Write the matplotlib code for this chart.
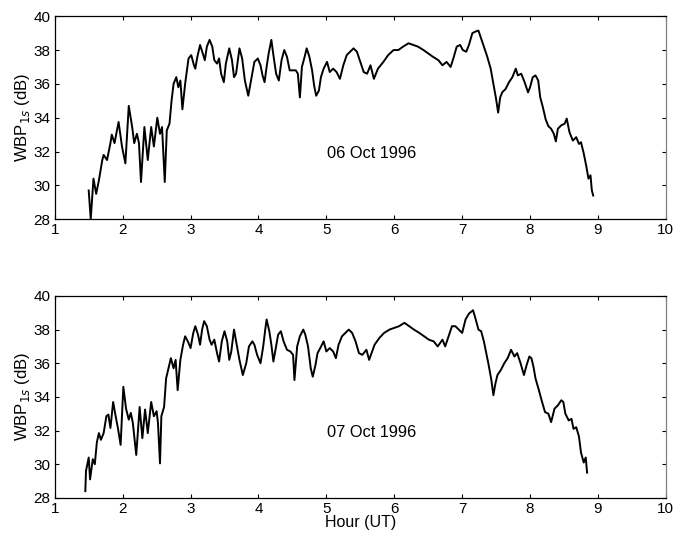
import matplotlib.pyplot as plt
import numpy as np

plt.rcParams['font.family'] = ['Liberation Sans', 'DejaVu Sans']

# ---- data (hour UT, dB) ----
hour_06 = [1.50, 1.53, 1.57, 1.61, 1.65, 1.70, 1.72, 1.77, 1.82, 1.84, 1.88, 1.94, 1.99,
           2.04, 2.09, 2.14, 2.17, 2.21, 2.24, 2.27, 2.32, 2.37, 2.42, 2.46, 2.51, 2.55,
           2.58, 2.62, 2.65, 2.69, 2.72, 2.75, 2.79, 2.82, 2.85, 2.88, 2.92, 2.97, 3.01,
           3.05, 3.07, 3.10, 3.14, 3.18, 3.21, 3.24, 3.28, 3.32, 3.35, 3.39, 3.42, 3.45,
           3.49, 3.52, 3.57, 3.61, 3.64, 3.67, 3.72, 3.76, 3.80, 3.85, 3.90, 3.94, 3.99,
           4.03, 4.06, 4.09, 4.12, 4.15, 4.19, 4.22, 4.26, 4.30, 4.34, 4.38, 4.42, 4.46,
           4.51, 4.55, 4.58, 4.61, 4.64, 4.68, 4.71, 4.75, 4.79, 4.82, 4.85, 4.89, 4.92,
           4.96, 5.01, 5.05, 5.10, 5.15, 5.20, 5.25, 5.30, 5.35, 5.40, 5.45, 5.50, 5.55,
           5.60, 5.65, 5.70, 5.76, 5.84, 5.91, 5.99, 6.06, 6.13, 6.21, 6.28, 6.35, 6.43,
           6.50, 6.57, 6.65, 6.71, 6.77, 6.83, 6.87, 6.92, 6.97, 7.01, 7.06, 7.10, 7.15,
           7.20, 7.24, 7.27, 7.32, 7.37, 7.42, 7.46, 7.50, 7.53, 7.56, 7.59, 7.64, 7.69,
           7.74, 7.79, 7.82, 7.87, 7.92, 7.97, 8.00, 8.04, 8.08, 8.12, 8.15, 8.19, 8.23,
           8.27, 8.31, 8.35, 8.38, 8.41, 8.46, 8.51, 8.54, 8.58, 8.63, 8.68, 8.72, 8.75,
           8.79, 8.83, 8.86, 8.89, 8.91, 8.93]
wbp_06 = [29.7, 28.0, 30.4, 29.5, 30.3, 31.5, 31.8, 31.5, 32.5, 33.0, 32.5, 33.75, 32.3,
          31.3, 34.7, 33.45, 32.5, 33.05, 32.5, 30.2, 33.45, 31.5, 33.45, 32.3, 34.0, 33.05,
          33.45, 30.2, 33.25, 33.65, 35.0, 36.0, 36.4, 35.8, 36.2, 34.5, 36.0, 37.5, 37.7,
          37.1, 36.9, 37.6, 38.3, 37.8, 37.4, 38.2, 38.6, 38.2, 37.4, 37.2, 37.5, 36.6,
          36.1, 37.2, 38.1, 37.4, 36.4, 36.6, 38.1, 37.5, 36.2, 35.3, 36.4, 37.3, 37.5,
          37.1, 36.5, 36.1, 37.0, 37.8, 38.6, 37.7, 36.6, 36.2, 37.4, 38.0, 37.6, 36.8,
          36.8, 36.8, 36.6, 35.2, 37.0, 37.6, 38.1, 37.6, 36.8, 35.9, 35.3, 35.6, 36.4,
          36.9, 37.3, 36.7, 36.9, 36.7, 36.3, 37.1, 37.7, 37.9, 38.1, 37.9, 37.3, 36.7,
          36.6, 37.1, 36.3, 36.9, 37.3, 37.7, 38.0, 38.0, 38.2, 38.4, 38.3, 38.2, 38.0,
          37.8, 37.6, 37.4, 37.1, 37.3, 37.0, 37.5, 38.2, 38.3, 38.0, 37.9, 38.3, 39.0,
          39.1, 39.15, 38.8, 38.2, 37.6, 36.9, 36.0, 35.1, 34.3, 35.2, 35.5, 35.7, 36.1,
          36.4, 36.9, 36.5, 36.6, 36.1, 35.5, 35.8, 36.4, 36.5, 36.2, 35.2, 34.6, 33.9,
          33.5, 33.35, 33.05, 32.6, 33.35, 33.55, 33.65, 33.95, 33.15, 32.65, 32.85, 32.45, 32.55,
          31.9, 31.1, 30.4, 30.6, 29.7, 29.4]

hour_07 = [1.45, 1.46, 1.50, 1.52, 1.56, 1.59, 1.62, 1.65, 1.68, 1.72, 1.76, 1.79, 1.82,
           1.86, 1.89, 1.93, 1.97, 2.01, 2.05, 2.09, 2.12, 2.15, 2.20, 2.25, 2.29, 2.33,
           2.37, 2.42, 2.46, 2.50, 2.52, 2.55, 2.57, 2.61, 2.64, 2.68, 2.71, 2.75, 2.78,
           2.81, 2.85, 2.89, 2.92, 2.96, 3.00, 3.04, 3.07, 3.11, 3.14, 3.17, 3.20, 3.24,
           3.28, 3.31, 3.35, 3.39, 3.42, 3.46, 3.50, 3.54, 3.57, 3.60, 3.64, 3.68, 3.72,
           3.77, 3.82, 3.86, 3.91, 3.94, 3.98, 4.03, 4.07, 4.10, 4.12, 4.16, 4.19, 4.22,
           4.26, 4.29, 4.33, 4.37, 4.42, 4.47, 4.51, 4.53, 4.57, 4.61, 4.66, 4.69, 4.73,
           4.77, 4.80, 4.84, 4.87, 4.91, 4.96, 5.00, 5.05, 5.10, 5.14, 5.18, 5.23, 5.28,
           5.33, 5.38, 5.43, 5.48, 5.53, 5.59, 5.63, 5.71, 5.78, 5.85, 5.93, 6.00, 6.07,
           6.15, 6.22, 6.29, 6.37, 6.44, 6.51, 6.58, 6.64, 6.71, 6.75, 6.80, 6.85, 6.90,
           6.95, 7.00, 7.05, 7.10, 7.16, 7.19, 7.24, 7.28, 7.32, 7.35, 7.39, 7.43, 7.46,
           7.49, 7.52, 7.57, 7.62, 7.67, 7.72, 7.77, 7.81, 7.86, 7.91, 7.95, 7.99, 8.02,
           8.05, 8.08, 8.13, 8.17, 8.22, 8.27, 8.31, 8.36, 8.41, 8.46, 8.49, 8.52, 8.57,
           8.61, 8.64, 8.68, 8.72, 8.75, 8.79, 8.82, 8.84]
wbp_07 = [28.4, 29.6, 30.4, 29.1, 30.3, 30.0, 31.3, 31.85, 31.45, 31.85, 32.85, 32.95, 32.15,
          33.7, 33.0, 32.15, 31.15, 34.6, 33.3, 32.65, 33.05, 32.45, 30.55, 33.4, 31.55, 33.25,
          31.85, 33.7, 32.85, 33.15, 32.45, 30.05, 32.85, 33.4, 35.1, 35.8, 36.3, 35.7, 36.2,
          34.4, 36.2, 37.1, 37.6, 37.3, 36.9, 37.8, 38.2, 37.7, 37.1, 38.0, 38.5, 38.2,
          37.4, 37.1, 37.4, 36.6, 36.1, 37.3, 37.9, 37.3, 36.2, 36.7, 38.0, 37.1, 36.2,
          35.3, 36.0, 37.0, 37.3, 37.1, 36.5, 36.0, 37.0, 38.0, 38.6, 37.9, 37.1, 36.1,
          37.0, 37.7, 37.9, 37.3, 36.8, 36.7, 36.5, 35.0, 37.0, 37.6, 38.0, 37.7, 37.0,
          35.7, 35.2, 35.9, 36.6, 36.9, 37.3, 36.7, 36.9, 36.7, 36.3, 37.1, 37.6, 37.8,
          38.0, 37.8, 37.3, 36.6, 36.5, 36.8, 36.2, 37.1, 37.5, 37.8, 38.0, 38.1, 38.2,
          38.4, 38.2, 38.0, 37.8, 37.6, 37.4, 37.3, 37.0, 37.4, 37.0, 37.6, 38.2, 38.2,
          38.0, 37.8, 38.6, 38.95, 39.15, 38.75, 38.0, 37.9, 37.3, 36.7, 35.9, 35.0, 34.1,
          34.8, 35.3, 35.6, 36.0, 36.3, 36.8, 36.4, 36.6, 36.0, 35.3, 35.9, 36.4, 36.3,
          35.8, 35.1, 34.4, 33.8, 33.1, 33.0, 32.5, 33.3, 33.5, 33.8, 33.7, 33.0, 32.6,
          32.7, 32.1, 32.2, 31.65, 30.7, 30.1, 30.4, 29.5]

panels = [(hour_06, wbp_06, "06 Oct 1996"), (hour_07, wbp_07, "07 Oct 1996")]

fig = plt.figure(figsize=(6.76, 5.40), dpi=100)
ax_top = fig.add_axes([0.081, 0.594, 0.904, 0.376])
ax_bot = fig.add_axes([0.081, 0.078, 0.904, 0.374])

for ax, (h, w, label) in zip([ax_top, ax_bot], panels):
    ax.plot(h, w, color='black', lw=1.4)
    ax.set_xlim(1, 10)
    ax.set_ylim(28, 40)
    ax.set_xticks(np.arange(1, 11))
    ax.set_yticks(np.arange(28, 41, 2))
    ax.tick_params(direction='in', top=True, right=True, labelsize=11, length=3, pad=3)
    ax.set_ylabel("WBP$_{1s}$ (dB)", fontsize=12, labelpad=1)
    ax.text(5.66, 31.9, label, fontsize=11.8, ha='center', va='center')
    ax.spines['right'].set_color('0.5')
    for s in ax.spines.values():
        s.set_linewidth(0.9)

ax_bot.set_xlabel("Hour (UT)", fontsize=11.5, labelpad=-1)

plt.savefig("out.png", dpi=100)
